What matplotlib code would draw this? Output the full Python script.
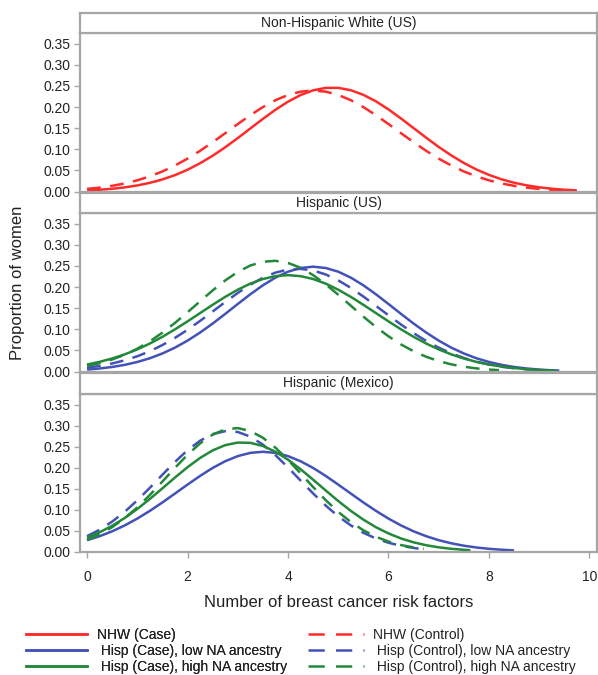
import matplotlib
matplotlib.use("Agg")
import matplotlib.pyplot as plt
from matplotlib.lines import Line2D

plt.rcParams['font.family'] = ['Liberation Sans', 'DejaVu Sans']

# ---------------- data ----------------
panel_titles = ["Non-Hispanic White (US)", "Hispanic (US)", "Hispanic (Mexico)"]

# Panel 1: Non-Hispanic White (US)
nhw_case_x = [0, 0.25, 0.5, 0.75, 1, 1.25, 1.5, 1.75, 2, 2.25, 2.5, 2.75, 3, 3.25, 3.5, 3.75, 4, 4.25, 4.5, 4.75,
              5, 5.25, 5.5, 5.75, 6, 6.25, 6.5, 6.75, 7, 7.25, 7.5, 7.75, 8, 8.25, 8.5, 8.75, 9, 9.25, 9.5, 9.75]
nhw_case_y = [0.0028, 0.0044, 0.0066, 0.0099, 0.0145, 0.0206, 0.0287, 0.0389, 0.0516, 0.0670, 0.0847, 0.1047,
              0.1265, 0.1492, 0.1719, 0.1935, 0.2126, 0.2283, 0.2394, 0.2452, 0.2453, 0.2397, 0.2288, 0.2134,
              0.1943, 0.1728, 0.1501, 0.1274, 0.1055, 0.0855, 0.0676, 0.0522, 0.0394, 0.0290, 0.0209, 0.0147,
              0.0101, 0.0068, 0.0044, 0.0028]
nhw_ctrl_x = [0, 0.25, 0.5, 0.75, 1, 1.25, 1.5, 1.75, 2, 2.25, 2.5, 2.75, 3, 3.25, 3.5, 3.75, 4, 4.25, 4.5, 4.75,
              5, 5.25, 5.5, 5.75, 6, 6.25, 6.5, 6.75, 7, 7.25, 7.5, 7.75, 8, 8.25, 8.5, 8.75, 9, 9.25, 9.5]
nhw_ctrl_y = [0.0063, 0.0094, 0.0136, 0.0192, 0.0266, 0.0360, 0.0476, 0.0616, 0.0779, 0.0964, 0.1167, 0.1380,
              0.1597, 0.1806, 0.1998, 0.2161, 0.2285, 0.2363, 0.2390, 0.2363, 0.2285, 0.2161, 0.1998, 0.1806,
              0.1597, 0.1380, 0.1167, 0.0964, 0.0779, 0.0616, 0.0476, 0.0360, 0.0266, 0.0192, 0.0136, 0.0094,
              0.0063, 0.0042, 0.0027]

# Panel 2: Hispanic (US)
us_case_low_x = [0, 0.25, 0.5, 0.75, 1, 1.25, 1.5, 1.75, 2, 2.25, 2.5, 2.75, 3, 3.25, 3.5, 3.75, 4, 4.25, 4.5,
                 4.75, 5, 5.25, 5.5, 5.75, 6, 6.25, 6.5, 6.75, 7, 7.25, 7.5, 7.75, 8, 8.25, 8.5, 8.75, 9, 9.25, 9.4]
us_case_low_y = [0.0047, 0.0073, 0.0109, 0.0159, 0.0227, 0.0315, 0.0428, 0.0566, 0.0732, 0.0923, 0.1135, 0.1364,
                 0.1598, 0.1828, 0.2040, 0.2222, 0.2362, 0.2450, 0.2480, 0.2450, 0.2362, 0.2222, 0.2040, 0.1828,
                 0.1598, 0.1364, 0.1135, 0.0923, 0.0732, 0.0566, 0.0428, 0.0315, 0.0227, 0.0159, 0.0109, 0.0073,
                 0.0047, 0.0030, 0.0023]
us_ctrl_low_x = [0, 0.25, 0.5, 0.75, 1, 1.25, 1.5, 1.75, 2, 2.25, 2.5, 2.75, 3, 3.25, 3.5, 3.75, 4, 4.25, 4.5,
                 4.75, 5, 5.25, 5.5, 5.75, 6, 6.25, 6.5, 6.75, 7, 7.25, 7.5, 7.75, 8, 8.25, 8.5, 8.75, 9]
us_ctrl_low_y = [0.0092, 0.0134, 0.0191, 0.0266, 0.0362, 0.0482, 0.0627, 0.0796, 0.0988, 0.1198, 0.1420, 0.1644,
                 0.1859, 0.2055, 0.2218, 0.2340, 0.2412, 0.2429, 0.2390, 0.2297, 0.2157, 0.1980, 0.1775, 0.1555,
                 0.1331, 0.1112, 0.0909, 0.0725, 0.0566, 0.0431, 0.0321, 0.0233, 0.0166, 0.0115, 0.0078, 0.0052,
                 0.0034]
us_case_high_x = [0, 0.25, 0.5, 0.75, 1, 1.25, 1.5, 1.75, 2, 2.25, 2.5, 2.75, 3, 3.25, 3.5, 3.75, 4, 4.25, 4.5,
                  4.75, 5, 5.25, 5.5, 5.75, 6, 6.25, 6.5, 6.75, 7, 7.25, 7.5, 7.75, 8, 8.25, 8.5, 8.75, 9, 9.25, 9.35]
us_case_high_y = [0.0167, 0.0230, 0.0309, 0.0407, 0.0525, 0.0663, 0.0822, 0.0998, 0.1187, 0.1383, 0.1579, 0.1767,
                  0.1936, 0.2080, 0.2189, 0.2257, 0.2280, 0.2257, 0.2189, 0.2080, 0.1936, 0.1767, 0.1579, 0.1383,
                  0.1187, 0.0998, 0.0822, 0.0663, 0.0525, 0.0407, 0.0309, 0.0230, 0.0167, 0.0119, 0.0084, 0.0057,
                  0.0038, 0.0025, 0.0021]
us_ctrl_high_x = [0, 0.25, 0.5, 0.75, 1, 1.25, 1.5, 1.75, 2, 2.25, 2.5, 2.75, 3, 3.25, 3.5, 3.75, 4, 4.25, 4.5,
                  4.75, 5, 5.25, 5.5, 5.75, 6, 6.25, 6.5, 6.75, 7, 7.25, 7.5, 7.75, 8, 8.2]
us_ctrl_high_y = [0.0136, 0.0199, 0.0286, 0.0398, 0.0541, 0.0715, 0.0920, 0.1150, 0.1402, 0.1662, 0.1919, 0.2155,
                  0.2356, 0.2508, 0.2597, 0.2619, 0.2569, 0.2454, 0.2281, 0.2064, 0.1817, 0.1558, 0.1300, 0.1055,
                  0.0834, 0.0641, 0.0480, 0.0350, 0.0248, 0.0171, 0.0115, 0.0075, 0.0048, 0.0033]

# Panel 3: Hispanic (Mexico)
mx_case_low_x = [0, 0.25, 0.5, 0.75, 1, 1.25, 1.5, 1.75, 2, 2.25, 2.5, 2.75, 3, 3.25, 3.5, 3.75, 4, 4.25, 4.5,
                 4.75, 5, 5.25, 5.5, 5.75, 6, 6.25, 6.5, 6.75, 7, 7.25, 7.5, 7.75, 8, 8.25, 8.5]
mx_case_low_y = [0.0271, 0.0366, 0.0482, 0.0622, 0.0785, 0.0969, 0.1169, 0.1381, 0.1594, 0.1801, 0.1990, 0.2150,
                 0.2272, 0.2349, 0.2375, 0.2349, 0.2272, 0.2150, 0.1990, 0.1801, 0.1594, 0.1381, 0.1169, 0.0969,
                 0.0785, 0.0622, 0.0482, 0.0366, 0.0271, 0.0197, 0.0140, 0.0097, 0.0066, 0.0044, 0.0028]
mx_case_high_x = [0, 0.25, 0.5, 0.75, 1, 1.25, 1.5, 1.75, 2, 2.25, 2.5, 2.75, 3, 3.25, 3.5, 3.75, 4, 4.25, 4.5,
                  4.75, 5, 5.25, 5.5, 5.75, 6, 6.25, 6.5, 6.75, 7, 7.25, 7.5, 7.63]
mx_case_high_y = [0.0334, 0.0459, 0.0614, 0.0799, 0.1014, 0.1252, 0.1505, 0.1762, 0.2008, 0.2228, 0.2408, 0.2533,
                  0.2594, 0.2588, 0.2513, 0.2376, 0.2187, 0.1960, 0.1711, 0.1454, 0.1203, 0.0969, 0.0760, 0.0580,
                  0.0432, 0.0312, 0.0220, 0.0151, 0.0101, 0.0066, 0.0042, 0.0032]
mx_ctrl_low_x = [0, 0.25, 0.5, 0.75, 1, 1.25, 1.5, 1.75, 2, 2.25, 2.5, 2.75, 3, 3.25, 3.5, 3.75, 4, 4.25, 4.5,
                 4.75, 5, 5.25, 5.5, 5.75, 6, 6.25, 6.5, 6.6]
mx_ctrl_low_y = [0.0366, 0.0519, 0.0713, 0.0947, 0.1218, 0.1517, 0.1828, 0.2134, 0.2412, 0.2638, 0.2795, 0.2866,
                 0.2846, 0.2736, 0.2546, 0.2295, 0.2002, 0.1691, 0.1383, 0.1095, 0.0839, 0.0623, 0.0447, 0.0311,
                 0.0210, 0.0137, 0.0086, 0.0071]
mx_ctrl_high_x = [0, 0.25, 0.5, 0.75, 1, 1.25, 1.5, 1.75, 2, 2.25, 2.5, 2.75, 3, 3.25, 3.5, 3.75, 4, 4.25, 4.5,
                  4.75, 5, 5.25, 5.5, 5.75, 6, 6.25, 6.5, 6.7]
mx_ctrl_high_y = [0.0280, 0.0410, 0.0581, 0.0795, 0.1052, 0.1346, 0.1666, 0.1992, 0.2303, 0.2575, 0.2783, 0.2909,
                  0.2938, 0.2869, 0.2709, 0.2473, 0.2182, 0.1862, 0.1536, 0.1225, 0.0944, 0.0704, 0.0507, 0.0353,
                  0.0238, 0.0155, 0.0098, 0.0066]

y_ticks = [0.00, 0.05, 0.10, 0.15, 0.20, 0.25, 0.30, 0.35]
x_ticks = [0, 2, 4, 6, 8, 10]

legend_left = ["NHW (Case)", " Hisp (Case), low NA ancestry", " Hisp (Case), high NA ancestry"]
legend_right = ["NHW (Control)", " Hisp (Control), low NA ancestry", " Hisp (Control), high NA ancestry"]

# ---------------- style ----------------
RED = "#ff2b2b"
BLUE = "#4352b8"
GREEN = "#23883a"
FRAME = "#a6a6a6"
TXT = "#222222"
LW = 1.8
DASH = (0, (5.5, 3.8))

W, H = 598, 675
fig = plt.figure(figsize=(W / 100, H / 100), dpi=100)

left = 80 / W
width = (597 - 80) / W

def fx(top_px, bot_px):
    return [left, 1 - bot_px / H, width, (bot_px - top_px) / H]

plot_boxes = [(33, 192), (213, 372), (394, 552)]
head_boxes = [(13, 33), (193, 213), (373, 394)]

panels = [
    [(nhw_case_x, nhw_case_y, RED, '-'), (nhw_ctrl_x, nhw_ctrl_y, RED, DASH)],
    [(us_case_low_x, us_case_low_y, BLUE, '-'), (us_ctrl_low_x, us_ctrl_low_y, BLUE, DASH),
     (us_case_high_x, us_case_high_y, GREEN, '-'), (us_ctrl_high_x, us_ctrl_high_y, GREEN, DASH)],
    [(mx_case_low_x, mx_case_low_y, BLUE, '-'), (mx_ctrl_low_x, mx_ctrl_low_y, BLUE, DASH),
     (mx_case_high_x, mx_case_high_y, GREEN, '-'), (mx_ctrl_high_x, mx_ctrl_high_y, GREEN, DASH)],
]

for i in range(3):
    ax = fig.add_axes(fx(*plot_boxes[i]))
    for xs, ys, c, ls in panels[i]:
        ax.plot(xs, ys, color=c, lw=LW, linestyle=ls, solid_capstyle='butt', dash_capstyle='butt',
                solid_joinstyle='round')
    ax.set_xlim(-0.14, 10.15)
    ax.set_ylim(-0.001, 0.375)
    ax.set_yticks(y_ticks)
    ax.set_yticklabels([f"{t:.2f}" for t in y_ticks])
    for s in ax.spines.values():
        s.set_color(FRAME)
        s.set_linewidth(1.6)
    ax.tick_params(axis='y', length=4, width=1, color=FRAME, pad=3, labelsize=10, labelcolor=TXT)
    if i == 2:
        ax.set_xticks(x_ticks)
        ax.tick_params(axis='x', length=4, width=1, color=FRAME, pad=9, labelsize=10, labelcolor=TXT)
        ax.set_xlabel("Number of breast cancer risk factors", fontsize=12, labelpad=8, color=TXT)
    else:
        ax.set_xticks([])

    hx = fig.add_axes(fx(*head_boxes[i]))
    hx.set_xticks([])
    hx.set_yticks([])
    for s in hx.spines.values():
        s.set_color(FRAME)
        s.set_linewidth(1.6)
    hx.text(0.5, 0.5, panel_titles[i], ha='center', va='center', fontsize=10, color=TXT,
            transform=hx.transAxes)

fig.text(18 / W, 1 - 283 / H, "Proportion of women", rotation=90, ha='center', va='center',
         fontsize=12, color=TXT)

# legend
hl = [Line2D([], [], color=c, lw=LW) for c in (RED, BLUE, GREEN)]
hr = [Line2D([], [], color=c, lw=LW, linestyle=(0, (6.5, 4.5))) for c in (RED, BLUE, GREEN)]
common = dict(loc='upper left', frameon=False, fontsize=10, borderpad=0, borderaxespad=0,
              handlelength=4.4, handletextpad=0.7, labelspacing=0.14, labelcolor=TXT)
leg1 = fig.legend(hl, legend_left, bbox_to_anchor=(26 / W, 1 - 628 / H), **common)
leg2 = fig.legend(hr, legend_right, bbox_to_anchor=(308 / W, 1 - 628 / H), **dict(common, handlelength=4.0))
fig.add_artist(leg1)

fig.savefig("out.png", dpi=100)
